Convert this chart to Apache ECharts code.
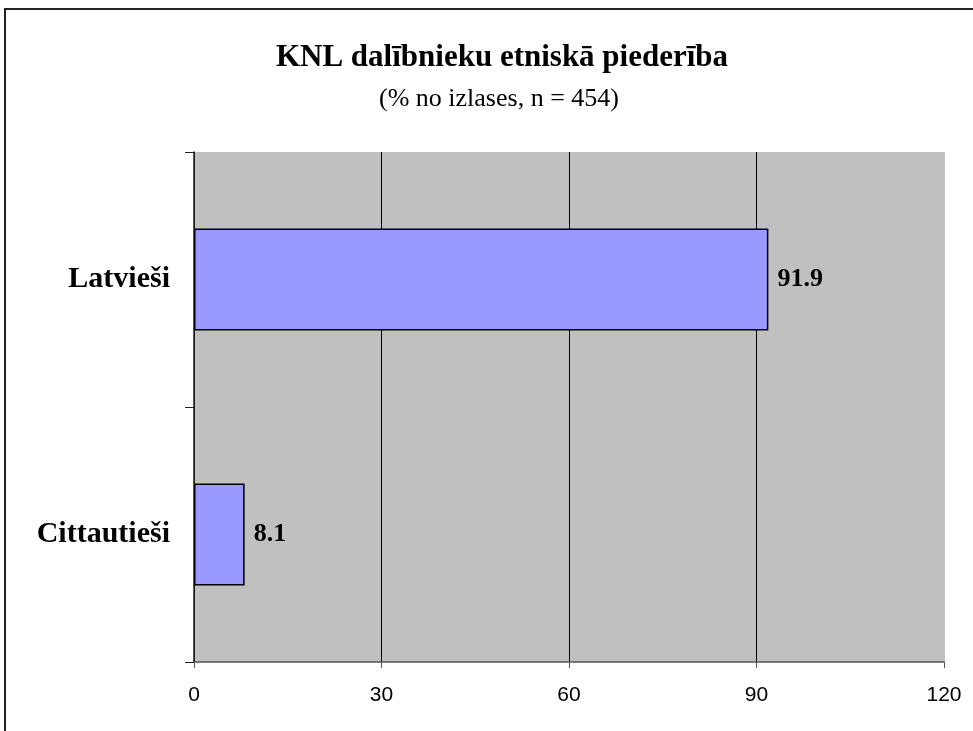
<!DOCTYPE html>
<html>
<head>
<meta charset="utf-8">
<script src="https://cdn.jsdelivr.net/npm/echarts@6/dist/echarts.min.js"></script>
<style>
  html, body { margin: 0; padding: 0; background: #fff; }
  #chart { width: 973px; height: 731px; }
</style>
</head>
<body>
<div id="chart"></div>
<script>
// chart data
const categories = ['Latvieši', 'Cittautieši'];
const shares = [91.9, 8.1];
const xTicks = [0, 30, 60, 90, 120];

const chart = echarts.init(document.getElementById('chart'));

const serif = '"Liberation Serif", "Times New Roman", serif';
const sans = '"Liberation Sans", Arial, sans-serif';

const option = {
  backgroundColor: '#fff',
  animation: false,
  title: [
    {
      text: 'KNL dalībnieku etniskā piederība',
      left: 497,
      top: 37,
      textAlign: 'center',
      textStyle: { fontFamily: serif, fontSize: 31, fontWeight: 'bold', color: '#000' }
    },
    {
      text: '(% no izlases, n = 454)',
      left: 494,
      top: 81,
      textAlign: 'center',
      textStyle: { fontFamily: serif, fontSize: 26, fontWeight: 'normal', color: '#000' }
    }
  ],
  // outer frame of the chart area
  graphic: [
    {
      type: 'rect',
      shape: { x: 5, y: 9, width: 1000, height: 800 },
      style: { fill: 'none', stroke: '#222', lineWidth: 2 },
      silent: true
    }
  ],
  grid: {
    left: 194,
    right: 29,
    top: 152,
    bottom: 69,
    show: true,
    backgroundColor: '#C0C0C0',
    borderWidth: 0
  },
  xAxis: {
    type: 'value',
    min: xTicks[0],
    max: xTicks[xTicks.length - 1],
    interval: 30,
    axisLine: { show: true, lineStyle: { color: '#555', width: 1.5 } },
    axisTick: { show: true, length: 6, lineStyle: { color: '#555' } },
    axisLabel: { fontFamily: sans, fontSize: 21, color: '#000', margin: 23 },
    splitLine: {
      show: true,
      lineStyle: { color: ['#000', '#000', '#000', '#000', '#C0C0C0'], width: 1 }
    }
  },
  yAxis: {
    type: 'category',
    data: categories,
    inverse: true,
    axisLine: { show: true, lineStyle: { color: '#222', width: 1.5 } },
    axisTick: { show: true, length: 9, alignWithLabel: false, lineStyle: { color: '#222' } },
    axisLabel: { fontFamily: serif, fontSize: 30, fontWeight: 'bold', color: '#000', margin: 24 },
    splitLine: { show: false }
  },
  series: [
    {
      type: 'bar',
      data: shares,
      barCategoryGap: '60%',
      itemStyle: { color: '#9999FF', borderColor: '#000', borderWidth: 1.5 },
      label: {
        show: true,
        position: 'right',
        distance: 9,
        formatter: p => p.value.toFixed(1),
        fontFamily: serif,
        fontSize: 26,
        fontWeight: 'bold',
        color: '#000'
      }
    }
  ]
};

chart.setOption(option);
</script>
</body>
</html>
